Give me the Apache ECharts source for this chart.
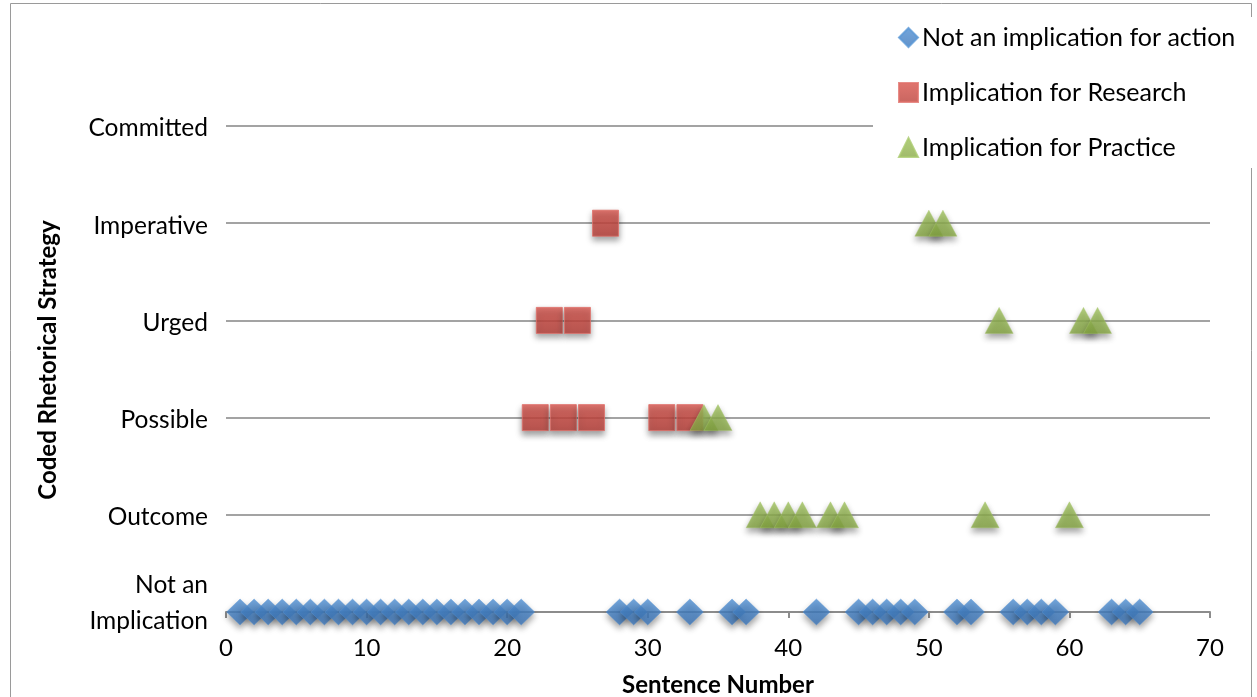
<!DOCTYPE html>
<html>
<head>
<meta charset="utf-8">
<script src="https://cdn.jsdelivr.net/npm/echarts@6/dist/echarts.min.js"></script>
<style>
  html, body { margin: 0; padding: 0; background: #fff; }
  #chart { width: 1257px; height: 697px; }
</style>
</head>
<body>
<div id="chart"></div>
<script>
// Rhetorical strategy levels, bottom to top
const strategyLevels = ['Not an\nImplication', 'Outcome', 'Possible', 'Urged', 'Imperative', 'Committed'];

// Sentences coded as not an implication for action (all at level 0)
const notActionSentences = [1, 2, 3, 4, 5, 6, 7, 8, 9, 10, 11, 12, 13, 14, 15, 16, 17, 18, 19, 20, 21,
  28, 29, 30, 33, 36, 37, 42, 45, 46, 47, 48, 49, 52, 53, 56, 57, 58, 59, 63, 64, 65];

// [sentence number, strategy level]
const researchPoints = [[22, 2], [24, 2], [26, 2], [31, 2], [33, 2], [23, 3], [25, 3], [27, 4]];
const practicePoints = [[38, 1], [39, 1], [40, 1], [41, 1], [43, 1], [44, 1], [54, 1], [60, 1],
  [34, 2], [35, 2], [55, 3], [61, 3], [62, 3], [50, 4], [51, 4]];

const seriesNames = ['Not an implication for action', 'Implication for Research', 'Implication for Practice'];

const FONT = 'Lato';

function grad(top, bottom) {
  return new echarts.graphic.LinearGradient(0, 0, 0, 1, [
    { offset: 0, color: top }, { offset: 1, color: bottom }
  ]);
}
const shadow = { shadowBlur: 6, shadowColor: 'rgba(0,0,0,0.45)', shadowOffsetY: 4 };

const chart = echarts.init(document.getElementById('chart'), null, { renderer: 'canvas' });
chart.setOption({
  animation: false,
  backgroundColor: '#fff',
  graphic: [{
    type: 'rect', silent: true, z: -10,
    shape: { x: 10.5, y: 3.5, width: 1241, height: 720 },
    style: { fill: 'none', stroke: '#9a9a9a', lineWidth: 1 }
  }],
  grid: { left: 226, right: 47, top: 126, bottom: 85, containLabel: false, outerBoundsMode: 'none' },
  legend: {
    orient: 'vertical',
    left: 873, top: 17,
    padding: [8, 60, 8, 25],
    backgroundColor: '#fff',
    itemWidth: 19, itemHeight: 19,
    itemGap: 30,
    textStyle: { fontFamily: FONT, fontSize: 25, lineHeight: 25, color: '#000', padding: [0, 0, 0, -1] },
    data: seriesNames
  },
  xAxis: {
    type: 'value', min: 0, max: 70, interval: 10,
    name: 'Sentence Number', nameLocation: 'middle', nameGap: 61,
    nameTextStyle: { fontFamily: FONT, fontSize: 24, fontWeight: 'bold', color: '#000' },
    axisLine: { show: true, lineStyle: { color: '#8c8c8c', width: 2 } },
    axisTick: { show: true, length: 6, lineStyle: { color: '#8c8c8c', width: 2 } },
    axisLabel: { fontFamily: FONT, fontSize: 24, color: '#000', margin: 24 },
    splitLine: { show: false }
  },
  yAxis: {
    type: 'value', min: 0, max: 5, interval: 1,
    name: 'Coded Rhetorical Strategy', nameLocation: 'middle', nameGap: 166, nameRotate: 90,
    nameTextStyle: { fontFamily: FONT, fontSize: 24, fontWeight: 'bold', color: '#000', padding: [0, 0, 0, 18] },
    axisLine: { show: false }, axisTick: { show: false },
    axisLabel: {
      margin: 18,
      padding: [5, 0, 0, 0],
      formatter: v => v === 0 ? '{two|' + strategyLevels[0] + '}' : strategyLevels[v],
      fontFamily: FONT, fontSize: 24.5, color: '#000',
      rich: { two: { fontFamily: FONT, fontSize: 24.5, color: '#000', lineHeight: 36, align: 'right', padding: [0, 0, 22, 0] } }
    },
    splitLine: { show: true, lineStyle: { color: '#a3a3a3', width: 2 } }
  },
  series: [
    {
      name: seriesNames[0], type: 'scatter', symbol: 'diamond', symbolSize: [27, 26],
      itemStyle: Object.assign({ color: grad('#4f8fd3', '#3d77bb'), borderColor: '#5a97d6', borderWidth: 0.5 }, shadow),
      data: notActionSentences.map(x => [x, 0])
    },
    {
      name: seriesNames[1], type: 'scatter', symbol: 'rect', symbolSize: [26, 26],
      itemStyle: Object.assign({ color: grad('#d9534b', '#bb3f38'), borderColor: '#e0706a', borderWidth: 1 }, shadow),
      data: researchPoints
    },
    {
      name: seriesNames[2], type: 'scatter', symbol: 'triangle', symbolSize: [28, 26],
      itemStyle: Object.assign({ color: grad('#9fc25e', '#88a944'), borderColor: '#a9c96d', borderWidth: 0.5 }, shadow),
      data: practicePoints
    }
  ]
});
</script>
</body>
</html>
